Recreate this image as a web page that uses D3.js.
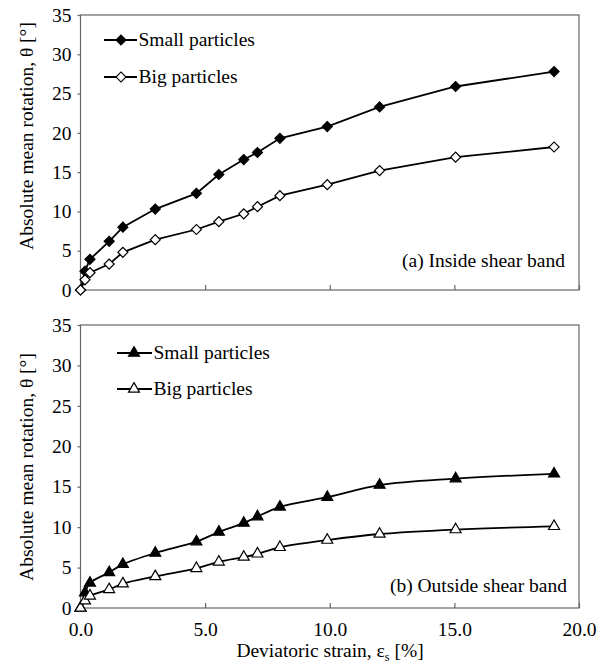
<!DOCTYPE html>
<html><head><meta charset="utf-8">
<script src="https://cdn.jsdelivr.net/npm/d3@7"></script>
<style>body{margin:0;background:#fff}svg{display:block}</style>
</head><body>
<script>
const strain = [0, 0.18, 0.38, 1.15, 1.7, 3.0, 4.65, 5.55, 6.55, 7.1, 8.0, 9.9, 12.0, 15.05, 19.0];
const insideSmall = [0, 2.4, 3.9, 6.2, 8.0, 10.3, 12.3, 14.7, 16.6, 17.5, 19.3, 20.8, 23.3, 25.9, 27.8];
const insideBig   = [0, 1.3, 2.2, 3.3, 4.8, 6.4, 7.7, 8.7, 9.7, 10.6, 12.0, 13.4, 15.2, 16.9, 18.2];
const outsideSmall = [0, 1.9, 3.1, 4.4, 5.4, 6.8, 8.2, 9.4, 10.5, 11.3, 12.5, 13.7, 15.2, 16.0, 16.6];
const outsideBig   = [0, 0.9, 1.5, 2.3, 3.0, 3.9, 4.9, 5.7, 6.3, 6.7, 7.5, 8.4, 9.15, 9.7, 10.1];
const xTicks = [0, 5, 10, 15, 20];
const yTicks = [0, 5, 10, 15, 20, 25, 30, 35];
const seriesNames = ["Small particles", "Big particles"];
const panelLabels = ["(a) Inside shear band", "(b) Outside shear band"];
const yTitle = "Absolute mean rotation, θ [°]";

const W = 605, H = 672, FS = 19.5, FONT = "'Liberation Serif', 'Times New Roman', serif";
const svg = d3.select("body").append("svg").attr("width", W).attr("height", H);
const x = d3.scaleLinear().domain([0, 20]).range([80.5, 579]);

const panels = [
  {top: 15, bottom: 290, small: insideSmall, big: insideBig, shape: "diamond",
   label: panelLabels[0], labelX: 565, labelY: 267, legX: [104, 121, 137], legY: [40, 77], titleY: 136, curve: d3.curveLinear, xlabels: false},
  {top: 325, bottom: 608, small: outsideSmall, big: outsideBig, shape: "triangle",
   label: panelLabels[1], labelX: 567, labelY: 592, legX: [117, 134, 152], legY: [353, 389], titleY: 467, curve: d3.curveCatmullRom.alpha(0.5), xlabels: true}
];

function txt(sel) { return sel.style("font-family", FONT).style("font-size", FS + "px").attr("fill", "#000"); }

function marker(g, shape, cx, cy, filled) {
  const sym = shape === "diamond"
    ? d3.symbol().type(d3.symbolSquare).size(50)
    : d3.symbol().type(d3.symbolTriangle).size(52);
  g.append("path").attr("d", sym())
    .attr("transform", `translate(${cx},${cy})` + (shape === "diamond" ? " rotate(45)" : ""))
    .attr("fill", filled ? "#000" : "#fff").attr("stroke", "#000").attr("stroke-width", 1.2);
}

panels.forEach(p => {
  const y = d3.scaleLinear().domain([0, 35]).range([p.bottom, p.top]);
  const g = svg.append("g");
  g.append("rect").attr("x", x(0)).attr("y", p.top).attr("width", x(20) - x(0)).attr("height", p.bottom - p.top)
    .attr("fill", "none").attr("stroke", "#666").attr("stroke-width", 1.2);
  const xa = g.append("g").attr("transform", `translate(0,${p.bottom})`)
    .call(d3.axisBottom(x).tickValues(xTicks).tickSizeInner(-5).tickSizeOuter(0).tickFormat(d3.format(".1f")).tickPadding(14));
  xa.select(".domain").remove();
  xa.selectAll("line").attr("stroke", "#666").attr("stroke-width", 1.2);
  txt(xa.selectAll("text")).style("display", p.xlabels ? null : "none");
  const ya = g.append("g").attr("transform", `translate(${x(0)},0)`)
    .call(d3.axisLeft(y).tickValues(yTicks).tickSizeInner(3).tickSizeOuter(0).tickPadding(6));
  ya.select(".domain").remove();
  ya.selectAll("line").attr("stroke", "#666").attr("stroke-width", 1.2);
  txt(ya.selectAll("text"));
  txt(g.append("text").attr("transform", `translate(33,${p.titleY}) rotate(-90)`)
    .attr("text-anchor", "middle")).text(yTitle);
  const line = d3.line().x((d, i) => x(strain[i])).y(d => y(d)).curve(p.curve);
  [p.small, p.big].forEach((vals, k) => {
    g.append("path").datum(vals).attr("d", line).attr("fill", "none").attr("stroke", "#000").attr("stroke-width", 1.8);
    vals.forEach((v, i) => marker(g, p.shape, x(strain[i]), y(v), k === 0));
  });
  seriesNames.forEach((name, k) => {
    const ly = p.legY[k];
    g.append("line").attr("x1", p.legX[0]).attr("x2", p.legX[2]).attr("y1", ly).attr("y2", ly)
      .attr("stroke", "#000").attr("stroke-width", 1.8);
    marker(g, p.shape, p.legX[1], ly, k === 0);
    txt(g.append("text").attr("x", p.legX[2] + 1.5).attr("y", ly).attr("dy", "0.33em")).text(name);
  });
  txt(g.append("text").attr("x", p.labelX).attr("y", p.labelY).attr("text-anchor", "end")).text(p.label);
});

const xt = txt(svg.append("text").attr("x", 330).attr("y", 657).attr("text-anchor", "middle"));
xt.append("tspan").text("Deviatoric strain, ε");
xt.append("tspan").attr("dy", 4).style("font-size", (FS * 0.62) + "px").text("s");
xt.append("tspan").attr("dy", -4).text(" [%]");
</script>
</body></html>
